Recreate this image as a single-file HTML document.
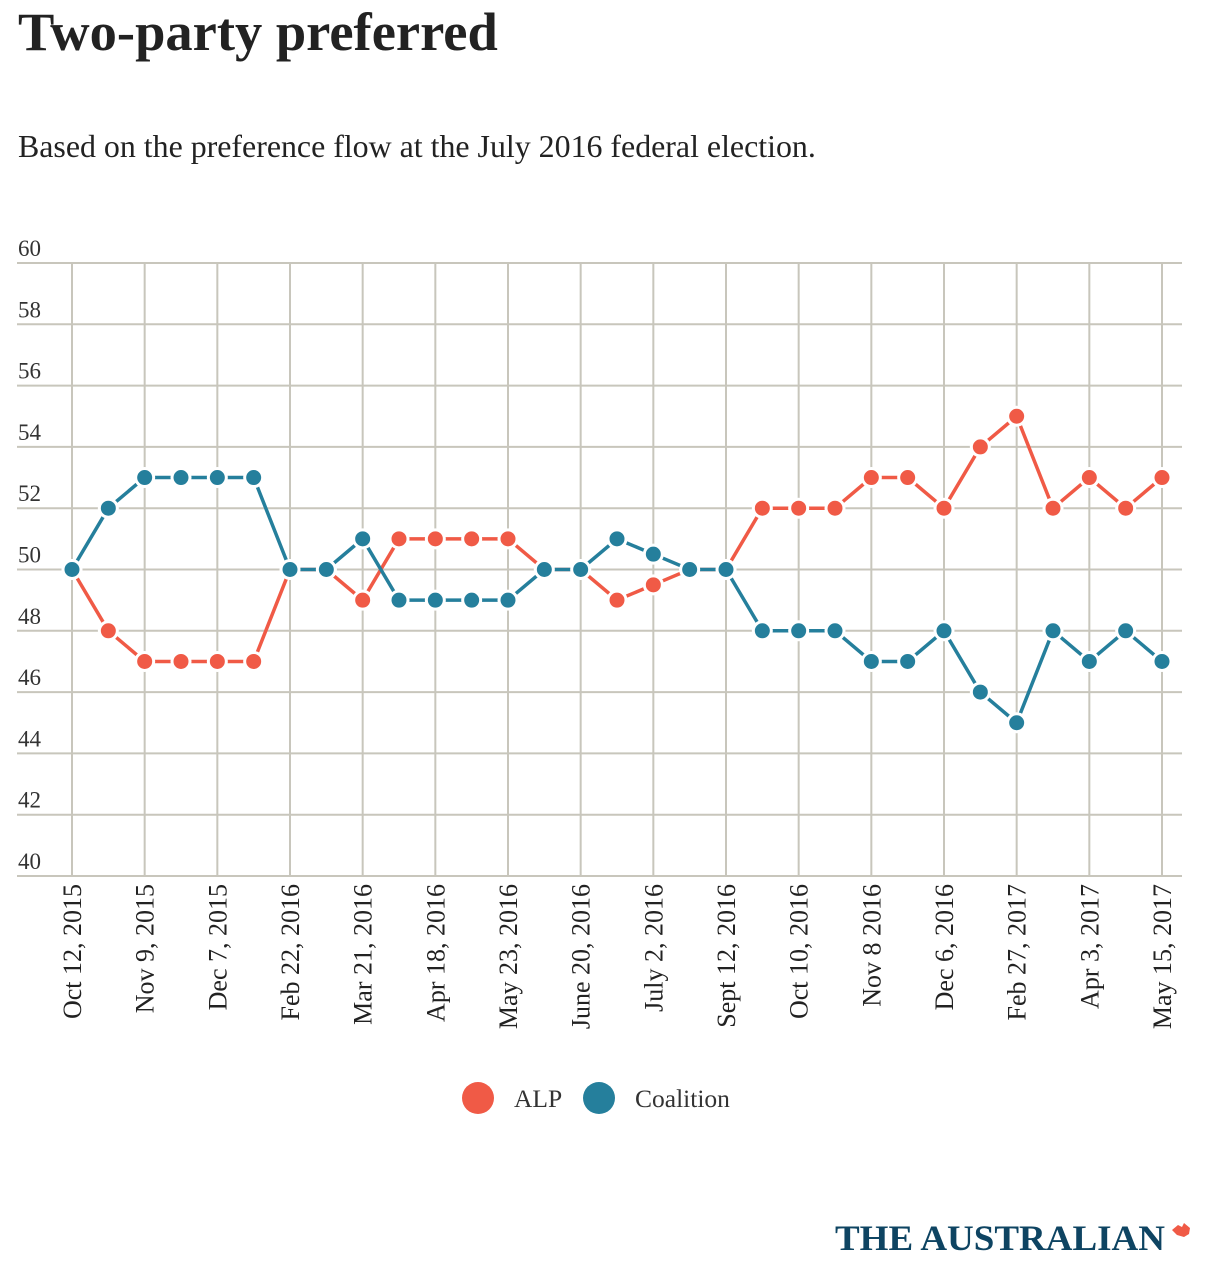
<!DOCTYPE html>
<html><head><meta charset="utf-8"><style>
body{margin:0;background:#fff;width:1206px;height:1278px;overflow:hidden;font-family:"Liberation Serif",serif;}
h1{position:absolute;left:18px;top:0px;margin:0;font-size:54.5px;font-weight:bold;color:#222;}
.sub{position:absolute;left:18px;top:129px;font-size:31.9px;color:#222;}
svg{position:absolute;left:0;top:0;}
</style></head><body>
<h1>Two-party preferred</h1>
<div class="sub">Based on the preference flow at the July 2016 federal election.</div>
<svg id="c" width="1206" height="1278"></svg>
<script>
const labels=["Oct 12, 2015","Nov 9, 2015","Dec 7, 2015","Feb 22, 2016","Mar 21, 2016","Apr 18, 2016","May 23, 2016","June 20, 2016","July 2, 2016","Sept 12, 2016","Oct 10, 2016","Nov 8 2016","Dec 6, 2016","Feb 27, 2017","Apr 3, 2017","May 15, 2017"];
const alp=[50,48,47,47,47,47,50,50,49,51,51,51,51,50,50,49,49.5,50,50,52,52,52,53,53,52,54,55,52,53,52,53];
const coalition=[50,52,53,53,53,53,50,50,51,49,49,49,49,50,50,51,50.5,50,50,48,48,48,47,47,48,46,45,48,47,48,47];
const yTicks=[40,42,44,46,48,50,52,54,56,58,60];
const NS="http://www.w3.org/2000/svg",svg=document.getElementById('c');
const x0=72,dx=(1162-72)/30;
const X=i=>x0+i*dx, Y=v=>876-(v-40)*(876-263)/20;
function mk(t,a,p){const e=document.createElementNS(NS,t);for(const k in a)e.setAttribute(k,a[k]);(p||svg).appendChild(e);return e;}
yTicks.forEach(v=>{
 const l=mk('line',{x1:17,x2:1182,y1:Y(v),y2:Y(v),stroke:'#c8c6bc','stroke-width':2});
 
 
 const t=mk('text',{x:18,y:Y(v)-7,'font-size':23,fill:'#333','font-family':'Liberation Serif, serif'});
 t.textContent=v;
 
 
});
labels.forEach((s,k)=>{
 const x=X(k*2);
 const l=mk('line',{x1:x,x2:x,y1:263,y2:876,stroke:'#c8c6bc','stroke-width':2});
 
 
 const t=mk('text',{x:0,y:0,'font-size':26,fill:'#222','font-family':'Liberation Serif, serif','text-anchor':'end',transform:`translate(${x+9},884) rotate(-90)`});
 t.textContent=s;
 
 
});
function series(vals,col,name){
 const g=mk('g',{});
 
 
 const pl=mk('polyline',{points:vals.map((v,i)=>X(i)+','+Y(v)).join(' '),fill:'none',stroke:col,'stroke-width':3.5},g);
 
 
 vals.forEach((v,i)=>{
  const c=mk('circle',{cx:X(i),cy:Y(v),r:9,fill:col,stroke:'#fff','stroke-width':3},g);
  
  
 });
}
series(alp,'#f05a46','alp');
series(coalition,'#257f9c','coalition');
[[478,'#f05a46','ALP',514],[599,'#257f9c','Coalition',635]].forEach(([cx,col,txt,tx])=>{
 const c=mk('circle',{cx:cx,cy:1098,r:16,fill:col});
 
 
 const t=mk('text',{x:tx,y:1107,'font-size':25.5,fill:'#333','font-family':'Liberation Serif, serif'});
 t.textContent=txt;
 
 
});
const lg=mk('text',{x:835,y:1250,'font-size':36,'font-weight':'bold',fill:'#0e4462','font-family':'Liberation Serif, serif',textLength:330,lengthAdjust:'spacingAndGlyphs'});
lg.textContent='THE AUSTRALIAN';


const m=mk('path',{d:'M1172,1230 l6,-5 l4,2 l2,-4 l6,5 l-1,6 l-5,3 l-7,-2 z',fill:'#f05a46'});


</script>
</body></html>
